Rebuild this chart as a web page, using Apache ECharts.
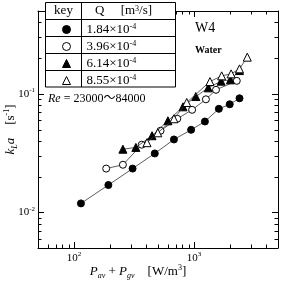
<!DOCTYPE html>
<html>
<head>
<meta charset="utf-8">
<script src="https://cdn.jsdelivr.net/npm/echarts@6/dist/echarts.min.js"></script>
<style>
  html, body { margin: 0; padding: 0; background: #fff; }
  #main { width: 286px; height: 281px; }
</style>
</head>
<body>
<div id="main"></div>
<script>
  // Q = 1.84e-4 (filled circle)
  var pQ1 = [114, 193, 307, 470, 679, 944, 1230, 1607, 1980, 2389];
  var kQ1 = [0.0119, 0.0170, 0.0234, 0.0314, 0.0412, 0.0497, 0.0584, 0.0747, 0.0816, 0.0917];
  // Q = 3.96e-4 (open circle)
  var pQ2 = [185, 255, 366, 525, 724, 962, 1254, 1522, 2267];
  var kQ2 = [0.0234, 0.0252, 0.0372, 0.0488, 0.0616, 0.0733, 0.0899, 0.1081, 0.1287];
  // Q = 6.14e-4 (filled triangle)
  var pQ3 = [255, 327, 446, 605, 808, 1033, 1311, 1677, 2006, 2389];
  var kQ3 = [0.0341, 0.0353, 0.0443, 0.0592, 0.0777, 0.0949, 0.1123, 0.1279, 0.1312, 0.1572];
  // Q = 8.55e-4 (open triangle)
  var pQ4 = [405, 498, 679, 868, 1355, 1696, 2034, 2389, 2773];
  var kQ4 = [0.0387, 0.0469, 0.0616, 0.0845, 0.1269, 0.1418, 0.1474, 0.1624, 0.2038];

  var qMantissa = ['1.84', '3.96', '6.14', '8.55'];
  var qExp = '-4';
  var symbols = ['circle', 'circle', 'triangle', 'triangle'];
  var fills = ['#000', '#fff', '#000', '#fff'];

  var xMinor = [60, 70, 80, 90, 200, 300, 400, 500, 600, 700, 800, 900, 2000, 3000, 4000];
  var yMinor = [0.006, 0.007, 0.008, 0.009, 0.02, 0.03, 0.04, 0.05, 0.06, 0.07, 0.08, 0.09, 0.2, 0.3, 0.4];

  var serif = '"Liberation Serif", "Times New Roman", serif';
  var names = qMantissa.map(function (m) { return m + '×10' + qExp; });
  var allP = [pQ1, pQ2, pQ3, pQ4];
  var allK = [kQ1, kQ2, kQ3, kQ4];

  var chart = echarts.init(document.getElementById('main'));

  function powLabel(v) {
    var l = Math.log10(v);
    var e = Math.round(l);
    if (Math.abs(l - e) > 1e-6) return '';
    return '{b|10}{s|' + e + '}';
  }
  var labelRich = {
    b: { fontFamily: serif, fontSize: 11, color: '#000', lineHeight: 14 },
    s: { fontFamily: serif, fontSize: 7, color: '#000', lineHeight: 7, verticalAlign: 'top' }
  };
  var nameRich = {
    i: { fontFamily: serif, fontStyle: 'italic', fontSize: 13, color: '#000', lineHeight: 16 },
    t: { fontFamily: serif, fontSize: 13, color: '#000', lineHeight: 16 },
    sub: { fontFamily: serif, fontStyle: 'italic', fontSize: 8, color: '#000', lineHeight: 8, verticalAlign: 'bottom' },
    s: { fontFamily: serif, fontSize: 8, color: '#000', lineHeight: 8, verticalAlign: 'top' }
  };

  var baseAxis = {
    type: 'log',
    logBase: 10,
    nameMoveOverlap: false,
    axisLine: { show: true, onZero: false, lineStyle: { color: '#000', width: 1 } },
    axisTick: { show: true, inside: true, length: 6, lineStyle: { color: '#000' } },
    splitLine: { show: false },
    minorTick: { show: false },
    minorSplitLine: { show: false }
  };

  var series = names.map(function (n, i) {
    return {
      name: n,
      type: 'line',
      data: allP[i].map(function (p, j) { return [p, allK[i][j]]; }),
      symbol: symbols[i],
      symbolSize: symbols[i] === 'triangle' ? 8 : 7,
      showAllSymbol: true,
      lineStyle: { color: '#333', width: 0.8 },
      itemStyle: { color: fills[i], borderColor: '#000', borderWidth: 1 },
      emphasis: { disabled: true },
      z: 2 + i
    };
  });

  chart.setOption({
    animation: false,
    backgroundColor: '#fff',
    grid: { left: 38, right: 8, top: 11, bottom: 33, containLabel: false, outerBoundsMode: 'none' },
    xAxis: [
      Object.assign({}, baseAxis, {
        position: 'bottom', min: 50, max: 5000,
        axisLabel: { formatter: powLabel, rich: labelRich, margin: 3, showMinLabel: false, showMaxLabel: false },
        name: '{i|P}{sub|av}{t| + }{i|P}{sub|gv}{t|    [W/m}{s|3}{t|]}',
        nameLocation: 'middle', nameGap: 16,
        nameTextStyle: { padding: [0, 40, 0, 0], rich: nameRich }
      }),
      Object.assign({}, baseAxis, {
        position: 'top', min: 50, max: 5000,
        axisLabel: { show: false }
      })
    ],
    yAxis: [
      Object.assign({}, baseAxis, {
        position: 'left', min: 0.005, max: 0.5,
        axisLabel: { formatter: powLabel, rich: labelRich, margin: 3, showMinLabel: false, showMaxLabel: false },
        name: '{i|k}{sub|L}{i|a}{t|    [s}{s|-1}{t|]}',
        nameLocation: 'middle', nameGap: 19,
        nameTextStyle: { rich: nameRich }
      }),
      Object.assign({}, baseAxis, {
        position: 'right', min: 0.005, max: 0.5,
        axisLabel: { show: false }
      })
    ],
    legend: {
      orient: 'vertical',
      left: 57, top: 18,
      itemWidth: 8, itemHeight: 8, itemGap: 4,
      selectedMode: false,
      z: 20,
      itemStyle: { borderWidth: 1 },
      data: names.map(function (n, i) { return { name: n, icon: symbols[i] }; }),
      formatter: function (name) {
        var i = names.indexOf(name);
        return '{sp|}{t|' + qMantissa[i] + '×10}{s|' + qExp + '}';
      },
      textStyle: {
        rich: {
          sp: { width: 11 },
          t: { fontFamily: serif, fontSize: 13, color: '#000', lineHeight: 13 },
          s: { fontFamily: serif, fontSize: 8, color: '#000', lineHeight: 8, verticalAlign: 'top' }
        }
      }
    },
    series: series
  });

  // table frame, annotations and minor ticks
  var gfx = [];
  var ln = { stroke: '#000', lineWidth: 1 };
  gfx.push({ type: 'rect', z: 10, shape: { x: 45.5, y: 2.5, width: 130, height: 84.5 }, style: { fill: '#fff', stroke: '#000', lineWidth: 1 } });
  gfx.push({ type: 'line', z: 11, shape: { x1: 81.5, y1: 2.5, x2: 81.5, y2: 87 }, style: ln });
  [19.5, 36.5, 53.5, 70.5].forEach(function (y) {
    gfx.push({ type: 'line', z: 11, shape: { x1: 45.5, y1: y, x2: 175.5, y2: y }, style: ln });
  });
  gfx.push({ type: 'text', z: 12, style: { text: 'key', x: 63.5, y: 11, align: 'center', verticalAlign: 'middle', font: '13px ' + serif, fill: '#000' } });
  gfx.push({ type: 'text', z: 12, style: {
    text: '{t|Q     [m}{s|3}{t|/s]}', x: 95, y: 11, verticalAlign: 'middle',
    rich: {
      t: { fontFamily: serif, fontSize: 13, fill: '#000', lineHeight: 13 },
      s: { fontFamily: serif, fontSize: 8, fill: '#000', lineHeight: 8, verticalAlign: 'top' }
    }
  } });
  gfx.push({ type: 'text', z: 12, style: { text: 'W4', x: 195, y: 28, verticalAlign: 'middle', font: '14px ' + serif, fill: '#000' } });
  gfx.push({ type: 'text', z: 12, style: { text: 'Water', x: 195, y: 50, verticalAlign: 'middle', font: 'bold 10px ' + serif, fill: '#000' } });
  gfx.push({ type: 'text', z: 12, style: {
    text: '{i|Re}{t| = 23000～84000}', x: 48, y: 99, verticalAlign: 'middle',
    rich: {
      i: { fontFamily: serif, fontStyle: 'italic', fontSize: 12, fill: '#000' },
      t: { fontFamily: serif + ', "Noto Sans CJK JP"', fontSize: 12, fill: '#000' }
    }
  } });

  var xl = chart.convertToPixel({ xAxisIndex: 0 }, 50);
  var xr = chart.convertToPixel({ xAxisIndex: 0 }, 5000);
  var yb = chart.convertToPixel({ yAxisIndex: 0 }, 0.005);
  var yt = chart.convertToPixel({ yAxisIndex: 0 }, 0.5);
  xMinor.forEach(function (v) {
    var p = Math.round(chart.convertToPixel({ xAxisIndex: 0 }, v)) + 0.5;
    gfx.push({ type: 'line', z: 1, shape: { x1: p, y1: yb, x2: p, y2: yb - 3.5 }, style: ln });
    gfx.push({ type: 'line', z: 1, shape: { x1: p, y1: yt, x2: p, y2: yt + 3.5 }, style: ln });
  });
  yMinor.forEach(function (v) {
    var p = Math.round(chart.convertToPixel({ yAxisIndex: 0 }, v)) + 0.5;
    gfx.push({ type: 'line', z: 1, shape: { x1: xl, y1: p, x2: xl + 3.5, y2: p }, style: ln });
    gfx.push({ type: 'line', z: 1, shape: { x1: xr, y1: p, x2: xr - 3.5, y2: p }, style: ln });
  });

  chart.setOption({ graphic: gfx });
</script>
</body>
</html>
